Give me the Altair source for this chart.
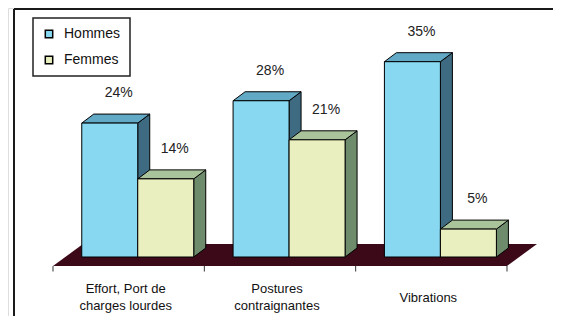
import altair as alt
import pandas as pd

# ---- data ----
categories = ["Effort, Port de charges lourdes", "Postures contraignantes", "Vibrations"]
category_lines = [["Effort, Port de", "charges lourdes"], ["Postures", "contraignantes"], ["Vibrations"]]
series = ["Hommes", "Femmes"]
hommes = [24, 28, 35]
femmes = [14, 21, 5]

# ---- style ----
front_colors = ["#87d8f0", "#e9efbf"]
side_colors = ["#3e6b82", "#6e8c6c"]
top_colors = ["#62a9c6", "#a9c49a"]
floor_color = "#3c0918"
FONT = "Liberation Sans"

W, H = 545, 308
px_per_cat = 151.33
x_left_px = 45
x_dom = [-x_left_px / px_per_cat, (W - x_left_px) / px_per_cat]
px_per_val = 5.58
zero_px = 249
y_dom = [-(H - zero_px) / px_per_val, zero_px / px_per_val]

depth_x = 12 / px_per_cat
depth_y = 9 / px_per_val
floor_front = -9 / px_per_val
floor_back = 13 / px_per_val
floor_dx = 30 / px_per_cat
bar_start = 0.19
bar_w = 0.37
line_h = 17
label_center = 40.5

values = {"Hommes": hommes, "Femmes": femmes}

fronts, sides, tops = [], [], []
for j, s in enumerate(series):
    for i, c in enumerate(categories):
        v = values[s][i]
        x0 = i + bar_start + j * bar_w
        x1 = x0 + bar_w
        bid = f"{s}-{i}"
        fronts.append({"series": s, "cat": c, "x": x0, "x2": x1, "y": 0, "y2": v,
                       "xc": (x0 + x1) / 2, "label": f"{v}%"})
        sides.append({"series": s, "bar": bid, "x": x1, "y": 0, "y2": v})
        sides.append({"series": s, "bar": bid, "x": x1 + depth_x, "y": depth_y, "y2": v + depth_y})
        tops.append({"series": s, "bar": bid, "y": v, "x": x0, "x2": x1})
        tops.append({"series": s, "bar": bid, "y": v + depth_y, "x": x0 + depth_x, "x2": x1 + depth_x})

fronts = pd.DataFrame(fronts)
sides = pd.DataFrame(sides)
tops = pd.DataFrame(tops)

n = len(categories)
floor = pd.DataFrame([
    {"y": floor_front, "x": 0, "x2": n},
    {"y": floor_back, "x": floor_dx, "x2": n + floor_dx},
])
ticks = pd.DataFrame({"x": list(range(n + 1))})
ticks["y"] = floor_front
ticks["y2"] = floor_front - 5.5 / px_per_val
cat_labels = pd.DataFrame({
    "x": [i + 0.5 for i in range(n)],
    "lines": ["\n".join(l) for l in category_lines],
    "y": [-(label_center - (len(l) - 1) * line_h / 2) / px_per_val for l in category_lines],
})

xs = alt.Scale(domain=x_dom, nice=False, zero=False)
ys = alt.Scale(domain=y_dom, nice=False, zero=False)
X = lambda f="x": alt.X(f"{f}:Q", scale=xs, axis=None)
Y = lambda f="y": alt.Y(f"{f}:Q", scale=ys, axis=None)

color = alt.Color(
    "series:N",
    scale=alt.Scale(domain=series, range=front_colors),
    legend=alt.Legend(
        title=None, orient="none", legendX=25, legendY=10,
        symbolType="square", symbolSize=55, symbolStrokeColor="black", symbolStrokeWidth=1.5,
        labelFont=FONT, labelFontSize=14, labelColor="#111", labelOffset=8,
        strokeColor="#222", padding=9, rowPadding=12, fillColor="white",
    ),
)

floor_layer = alt.Chart(floor).mark_area(orient="horizontal", color=floor_color).encode(
    y=Y(), x=X(), x2="x2:Q"
)
tick_layer = alt.Chart(ticks).mark_rule(color="#333", strokeWidth=1).encode(
    x=X(), y=Y(), y2="y2:Q"
)

layers = [floor_layer, tick_layer]
for j, s in enumerate(series):
    layers.append(
        alt.Chart(sides).transform_filter(alt.datum.series == s)
        .mark_area(fill=side_colors[j], stroke="black", strokeWidth=1)
        .encode(x=X(), y=Y(), y2="y2:Q", detail="bar:N")
    )
    layers.append(
        alt.Chart(tops).transform_filter(alt.datum.series == s)
        .mark_area(orient="horizontal", fill=top_colors[j], stroke="black", strokeWidth=1)
        .encode(y=Y(), x=X(), x2="x2:Q", detail="bar:N")
    )
    layers.append(
        alt.Chart(fronts).transform_filter(alt.datum.series == s)
        .mark_rect(stroke="black", strokeWidth=1)
        .encode(x=X(), x2="x2:Q", y=Y(), y2="y2:Q", color=color)
    )

value_labels = alt.Chart(fronts).mark_text(
    font=FONT, fontSize=14, color="#222", dx=9, dy=-30, baseline="middle"
).encode(x=X("xc"), y=Y("y2"), text="label:N")

cat_text = alt.Chart(cat_labels).mark_text(
    font=FONT, fontSize=13, color="#111", baseline="middle", lineHeight=line_h, dx=-3, lineBreak="\n"
).encode(x=X(), y=Y(), text="lines:N")

frame_left = alt.Chart(ticks).mark_rule(color="#1a1a1a", strokeWidth=2).encode(
    x=alt.value(6), y=alt.value(1), y2=alt.value(H)
)
frame_top = alt.Chart(ticks).mark_rule(color="#1a1a1a", strokeWidth=2).encode(
    x=alt.value(6), x2=alt.value(W), y=alt.value(1)
)

chart = alt.layer(*layers, value_labels, cat_text, frame_left, frame_top).properties(
    width=W, height=H, autosize=alt.AutoSizeParams(type="none"), padding=0
).configure_view(stroke=None).configure(background="white").configure_legend(strokeWidth=1.5)

chart.save("out.html", embed_options={"renderer": "svg", "actions": False})
